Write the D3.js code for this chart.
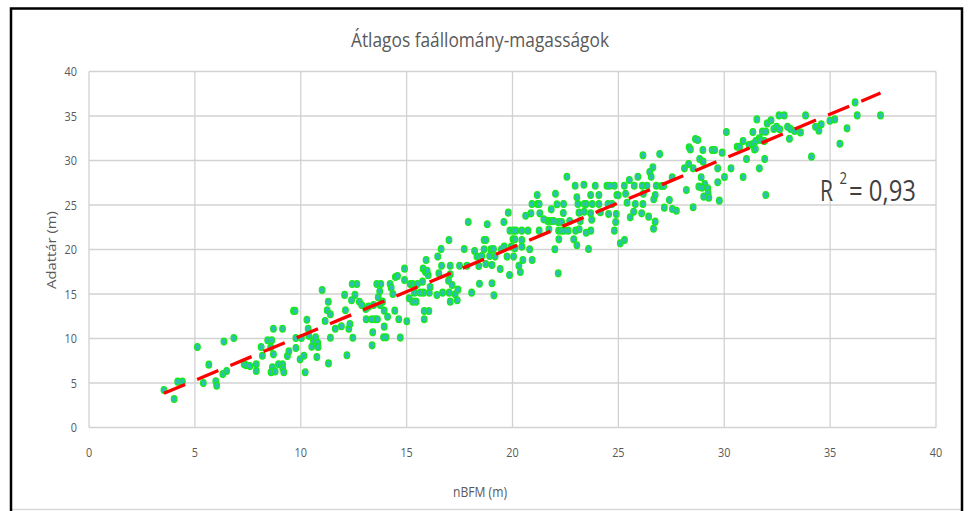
<!DOCTYPE html>
<meta charset="utf-8">
<svg width="968" height="511"></svg>

<style>
body {
  margin: 0;
  background: #fff;
}
svg {
  display: block;
  font-family: 'Open Sans', Arial, sans-serif;
}
.grid line {
  stroke: #d2d2d2;
  stroke-width: 1.3;
}
.tick-label {
  fill: #595959;
  font-size: 12.5px;
}
.dot {
  fill: #2bbfb6;
  stroke: #18ea18;
  stroke-width: 1.3;
}
.trend {
  fill: none;
  stroke: #ff0000;
  stroke-width: 3.3;
  stroke-dasharray: 23 13;
}
.r2 {
  fill: #404040;
}
</style>

<script src="https://d3js.org/d3.v7.min.js"></script>

<script>

// nBFM (m), Adattár (m) pairs
var points = [
  [3.54,4.2],[4.02,3.2],[4.19,5.15],[4.41,5.15],[5.12,9.05],[5.4,5.0],[5.66,7.06],[5.99,5.2],
  [6.03,4.7],[6.32,6.0],[6.37,9.65],[6.5,6.35],[6.84,10.05],[7.33,7.1],[7.42,7.0],[7.6,6.9],
  [7.9,7.1],[7.9,6.35],[8.13,9.05],[8.19,8.07],[8.44,9.8],[8.63,9.8],[8.58,9.0],[8.71,11.1],
  [8.71,8.22],[8.66,6.76],[8.6,6.2],[8.79,6.3],[8.95,7.1],[9.14,11.1],[9.14,7.1],[9.15,6.65],
  [9.2,6.2],[9.37,8.03],[9.44,8.56],[9.66,13.1],[9.73,13.1],[9.77,8.93],[9.77,10.05],[9.97,7.66],
  [10.03,10.05],[10.15,8.07],[10.21,6.2],[10.29,12.1],[10.35,11.1],[10.38,10.3],[10.52,9.08],[10.6,9.75],
  [10.7,10.13],[10.8,9.53],[10.82,9.05],[10.76,7.92],[11.01,15.45],[11.15,11.97],[11.3,14.13],[11.25,13.17],
  [11.31,7.2],[11.4,12.72],[11.4,10.09],[11.63,11.1],[11.92,11.37],[12.07,14.9],[12.11,13.17],[12.18,8.11],
  [12.27,11.1],[12.32,11.63],[12.4,14.29],[12.43,16.12],[12.56,14.9],[12.46,10.09],[12.65,16.12],[12.77,14.13],
  [12.88,13.77],[13.07,13.32],[13.2,13.58],[13.44,13.77],[13.75,13.77],[13.86,14.14],[13.51,12.16],[13.62,12.16],
  [13.94,13.13],[14.1,12.45],[14.44,13.13],[14.63,12.16],[15.01,11.93],[15.83,13.09],[16.05,13.09],[15.83,12.16],
  [13.09,12.16],[13.36,12.16],[13.4,10.69],[13.94,11.33],[13.91,10.13],[14.03,10.13],[14.7,10.1],[13.37,9.23],
  [14.22,16.12],[13.59,16.12],[13.78,16.12],[13.73,15.3],[14.27,15.71],[14.35,15.0],[13.66,14.63],
  [14.47,16.91],[14.57,17.02],[14.9,16.57],[15.17,16.12],[15.29,16.12],[15.51,16.12],[15.75,16.39],[16.07,15.15],
  [15.8,15.15],[15.64,15.15],[15.37,15.15],[15.12,14.52],[15.29,14.14],[15.45,14.14],[16.43,14.89],[16.7,15.15],
  [17.01,15.15],[17.29,14.96],[17.06,14.14],[17.39,14.29],
  [14.9,17.85],[15.78,17.85],[15.89,17.47],[16.02,17.1],[16.52,17.32],[17.06,17.21],[16.98,16.5],[16.11,15.79],
  [17.15,16.01],[17.42,15.49],[18.44,16.16],[19.03,16.2],[18.07,15.15],[19.12,14.85],[22.16,17.32],
  [15.92,18.82],[15.97,17.62],[16.65,18.18],[17.06,18.18],[17.5,18.18],[17.85,18.18],[18.41,18.15],[18.74,18.37],
  [19.03,18.26],[19.42,17.81],[20.3,18.18],[20.37,17.47],[19.86,17.14],
  [16.47,19.2],[18.32,19.2],[18.55,19.27],[18.92,19.27],[19.18,19.2],[19.74,19.2],[20.05,19.2],[20.49,18.82],
  [20.93,18.82],[16.63,20.06],[17.72,20.06],[18.21,19.83],[18.66,20.02],[18.98,20.02],[19.1,20.06],[19.48,20.02],
  [17.0,21.07],[18.66,21.07],[18.74,21.07],[19.61,20.32],[19.94,20.32],[20.11,20.13],[20.81,20.02],[20.44,20.32],
  [20.02,21.14],[20.11,21.14],[20.44,21.07],[22.19,21.14],[22.89,21.14],[23.04,20.47],[23.59,20.06],[22.0,20.02],
  [17.91,23.09],[18.81,22.83],[19.88,22.12],[20.05,22.12],[20.16,22.12],[20.44,22.12],[20.73,22.12],[21.26,22.12],
  [21.72,22.27],[22.18,22.12],[22.32,22.12],[22.44,22.12],[22.63,22.12],[22.98,22.12],[23.15,22.27],[23.7,22.12],
  [23.48,21.89],[24.81,22.12],[26.66,22.34],[25.09,20.69],[25.29,21.07],
  [19.59,23.09],[21.66,23.2],[21.81,23.2],[21.94,23.2],[22.16,23.09],[22.32,23.09],[22.7,23.2],[23.2,23.2],
  [24.87,23.09],[26.74,23.13],[19.8,24.14],[20.62,23.8],[20.87,24.06],[21.29,24.06],[21.48,23.39],[22.4,24.1],
  [23.74,23.35],[23.69,24.06],[21.83,24.51],[23.14,24.14],[23.39,24.25],[24.15,24.18],[24.54,23.99],[24.9,23.99],
  [25.72,24.25],[26.1,24.06],[26.43,23.69],[25.56,23.61],
  [20.92,25.11],[21.18,25.11],[21.26,25.11],[22.1,25.08],[22.41,25.11],[23.09,25.11],[23.39,25.11],[23.48,25.11],
  [23.77,25.11],[24.08,25.11],[24.51,25.11],[24.7,25.11],[25.8,25.11],[26.16,25.11],[25.41,25.26],
  [21.17,26.12],[22.03,26.27],[23.04,25.86],[23.69,26.12],[24.08,26.12],[24.93,26.12],[24.99,26.1],[25.34,26.27],
  [26.18,26.27],[26.67,25.64],[26.74,26.12],
  [22.57,28.18],[22.96,27.17],[23.37,27.28],[23.91,27.17],[24.46,27.17],[24.59,27.17],[24.81,27.17],[25.28,27.17],
  [25.75,27.17],[26.13,27.17],[26.35,27.17],[26.79,27.17],[26.63,29.23],[26.48,28.71],[25.92,28.18],[26.55,28.18],
  [25.52,27.81],[26.16,30.58],[26.95,30.73],
  [27.02,27.13],[27.14,27.13],[27.17,24.7],[27.41,25.56],[27.54,28.11],[27.55,24.55],[27.74,24.36],[28.12,29.12],
  [28.21,26.68],[28.32,29.61],[28.34,31.48],[28.4,31.25],[28.53,24.74],[28.53,29.12],[28.64,32.42],[28.75,32.3],
  [28.8,27.06],[28.84,30.17],[28.91,28.11],[29.0,29.87],[28.99,31.18],[29.03,25.94],[29.08,27.36],[29.22,26.87],
  [29.24,26.31],[29.27,25.82],[28.95,26.95],[29.43,31.18],[29.55,31.18],[29.69,29.12],[29.69,27.55],[29.77,25.49],
  [29.9,30.88],[30.01,28.14],[30.1,33.2],[30.32,29.12],[30.61,31.55],[30.72,31.55],[30.89,28.14],[30.89,32.19],
  [31.05,30.17],[31.17,31.74],[31.35,31.85],[31.35,33.2],[31.43,31.25],[31.47,31.29],[31.49,32.19],[31.54,34.62],
  [31.65,32.49],[31.66,29.12],[31.71,32.3],[31.8,33.24],[31.96,26.12],[31.91,30.17],[31.9,32.19],[31.96,33.24],
  [32.03,34.17],[32.21,34.51],[32.34,33.54],[32.47,33.8],[32.62,33.5],[32.59,35.07],[32.83,35.07],[32.99,33.8],
  [33.08,32.45],[33.13,33.54],[33.32,33.31],[33.6,33.16],[33.84,35.07],[34.12,30.43],[34.31,33.8],[34.47,33.35],
  [34.58,34.06],[34.99,34.47],[35.22,34.62],[35.46,31.89],[35.8,33.61],[36.18,36.53],[36.28,35.07],[37.38,35.07]
];

var xTicks = [0, 5, 10, 15, 20, 25, 30, 35, 40];
var yTicks = [0, 5, 10, 15, 20, 25, 30, 35, 40];

// linear trendline and its R² as shown on the chart
var trendSlope = 0.997;
var trendIntercept = 0.31;
var rSquared = "0,93";

var chartTitle = "Átlagos faállomány-magasságok";
var xTitle = "nBFM (m)";
var yTitle = "Adattár (m)";

var svg = d3.select("svg"),
    width = +svg.attr("width"),
    height = +svg.attr("height");

var x = d3.scaleLinear()
    .domain([0, 40])
    .range([89, 936]);

var y = d3.scaleLinear()
    .domain([0, 40])
    .range([427.5, 71.5]);

// outer frame
svg.append("line")
    .attr("x1", 11).attr("x2", 962)
    .attr("y1", 509.5).attr("y2", 509.5)
    .attr("stroke", "#d9d9d9")
    .attr("stroke-width", 1.5);

svg.append("rect")
    .attr("x", 11)
    .attr("y", 8.5)
    .attr("width", 951)
    .attr("height", 530)
    .attr("fill", "none")
    .attr("stroke", "#000")
    .attr("stroke-width", 2.5);

// gridlines
var grid = svg.append("g").attr("class", "grid");

grid.selectAll(".gx")
  .data(xTicks)
  .enter().append("line")
    .attr("x1", function(d) { return x(d); })
    .attr("x2", function(d) { return x(d); })
    .attr("y1", y(0))
    .attr("y2", y(40));

grid.selectAll(".gy")
  .data(yTicks)
  .enter().append("line")
    .attr("x1", x(0))
    .attr("x2", x(40))
    .attr("y1", function(d) { return y(d); })
    .attr("y2", function(d) { return y(d); });

// tick labels
svg.append("g").selectAll("text")
  .data(yTicks)
  .enter().append("text")
    .attr("class", "tick-label")
    .attr("x", 77)
    .attr("y", function(d) { return y(d) + 4.6; })
    .attr("text-anchor", "end")
    .attr("textLength", function(d) { return String(d).length * 6.2; })
    .attr("lengthAdjust", "spacingAndGlyphs")
    .text(function(d) { return d; });

svg.append("g").selectAll("text")
  .data(xTicks)
  .enter().append("text")
    .attr("class", "tick-label")
    .attr("x", function(d) { return x(d); })
    .attr("y", 457)
    .attr("text-anchor", "middle")
    .attr("textLength", function(d) { return String(d).length * 6.2; })
    .attr("lengthAdjust", "spacingAndGlyphs")
    .text(function(d) { return d; });

// points
svg.append("g").selectAll("ellipse")
  .data(points)
  .enter().append("ellipse")
    .attr("class", "dot")
    .attr("cx", function(d) { return x(d[0]); })
    .attr("cy", function(d) { return y(d[1]); })
    .attr("rx", 2.8)
    .attr("ry", 3.4);

// trendline
var xExt = d3.extent(points, function(d) { return d[0]; });
var line = d3.line()
    .x(function(d) { return x(d); })
    .y(function(d) { return y(trendSlope * d + trendIntercept); });

svg.append("path")
    .datum(xExt)
    .attr("class", "trend")
    .attr("d", line);

// titles
svg.append("text")
    .attr("x", 480)
    .attr("y", 47)
    .attr("text-anchor", "middle")
    .attr("fill", "#595959")
    .style("font-size", "20px")
    .attr("textLength", 258)
    .attr("lengthAdjust", "spacingAndGlyphs")
    .text(chartTitle);

svg.append("text")
    .attr("x", 480)
    .attr("y", 497)
    .attr("text-anchor", "middle")
    .attr("fill", "#595959")
    .style("font-size", "14px")
    .attr("textLength", 54)
    .attr("lengthAdjust", "spacingAndGlyphs")
    .text(xTitle);

svg.append("text")
    .attr("transform", "translate(55.5,250) rotate(-90)")
    .attr("text-anchor", "middle")
    .attr("fill", "#595959")
    .style("font-size", "12px")
    .attr("textLength", 78)
    .attr("lengthAdjust", "spacingAndGlyphs")
    .text(yTitle);

// R² label, split so the superscript sits beside the R
svg.append("text")
    .attr("class", "r2")
    .attr("x", 820)
    .attr("y", 201)
    .style("font-size", "29px")
    .attr("textLength", 13)
    .attr("lengthAdjust", "spacingAndGlyphs")
    .text("R");

svg.append("text")
    .attr("class", "r2")
    .attr("x", 839.5)
    .attr("y", 184)
    .style("font-size", "16px")
    .attr("textLength", 7.5)
    .attr("lengthAdjust", "spacingAndGlyphs")
    .text("2");

svg.append("text")
    .attr("class", "r2")
    .attr("x", 849)
    .attr("y", 201)
    .style("font-size", "29px")
    .attr("textLength", 67)
    .attr("lengthAdjust", "spacingAndGlyphs")
    .text("= " + rSquared);

</script>
